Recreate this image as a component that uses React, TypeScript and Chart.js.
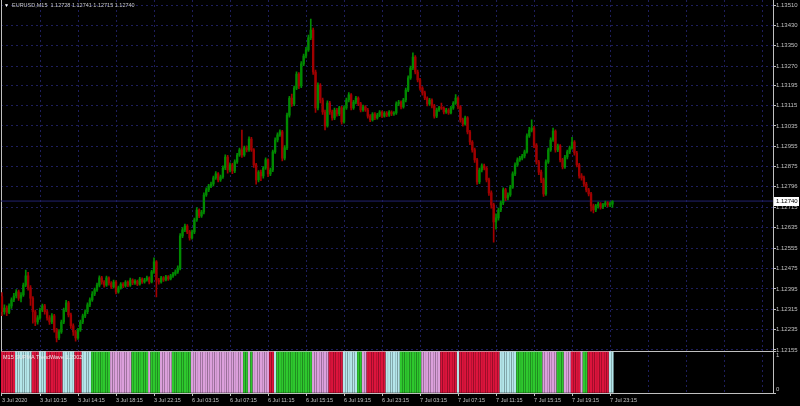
import React, { useEffect, useRef } from "react";
import { Chart, registerables } from "chart.js";

Chart.register(...registerables);

const symbolTitle = "EURUSD,M15";
const lastQuote = ["1.12728", "1.12741", "1.12715", "1.12740"];
const indicatorTitle = "M15 SUPMA TrendWave 1.2002";

const firstOpen = 1.12365;

const closes = [
  1.12305, 1.1232, 1.12303, 1.12328, 1.12352, 1.12367, 1.12383, 1.12359, 1.12371, 1.1241,
  1.12446, 1.12399, 1.12359, 1.12305, 1.12265, 1.12281, 1.12312, 1.12328, 1.12305, 1.12281,
  1.12265, 1.12289, 1.12234, 1.12202, 1.12226, 1.12265, 1.12312, 1.1234, 1.12293, 1.1225,
  1.12226, 1.12202, 1.12234, 1.12265, 1.12289, 1.12305, 1.12332, 1.12352, 1.12375, 1.12391,
  1.1241, 1.12438, 1.12422, 1.1241, 1.12438, 1.12418, 1.12403, 1.12422, 1.12383, 1.12399,
  1.12414, 1.12407, 1.12422, 1.1241, 1.1243, 1.12418, 1.12426, 1.12414, 1.12434, 1.12422,
  1.1243, 1.12438, 1.12422, 1.12462, 1.12501, 1.1243, 1.12422, 1.12438, 1.1243, 1.12442,
  1.12434, 1.12446, 1.12454, 1.12462, 1.12477, 1.12603, 1.12627, 1.12642, 1.12619, 1.12595,
  1.12619, 1.12666, 1.12705, 1.12682, 1.12697, 1.12764, 1.12784, 1.12799, 1.12807, 1.12831,
  1.12847, 1.12823, 1.12835, 1.1287, 1.12913, 1.12862, 1.12882, 1.12858, 1.12894, 1.12921,
  1.12941, 1.12921, 1.12949, 1.12941, 1.12984, 1.12941, 1.12882, 1.12823, 1.12854, 1.12839,
  1.1287, 1.12902, 1.12847, 1.12862, 1.12933, 1.1298, 1.13, 1.13012, 1.12909, 1.12949,
  1.13078, 1.13145, 1.13122, 1.13184, 1.13239, 1.13192, 1.13279, 1.1331, 1.13334, 1.13381,
  1.13412, 1.13247, 1.13106, 1.13196, 1.13137, 1.1309, 1.13035, 1.13125, 1.1309, 1.13067,
  1.13098, 1.13082, 1.13106, 1.13051, 1.13106, 1.13137, 1.13157, 1.13106, 1.13129, 1.13145,
  1.13122, 1.13098, 1.1311, 1.13098, 1.13074, 1.13059, 1.13082, 1.13067, 1.13078, 1.1309,
  1.13074, 1.13086, 1.13078, 1.1309, 1.13082, 1.13086, 1.13122, 1.13129, 1.1311, 1.13137,
  1.13176, 1.13224, 1.13263, 1.13306, 1.13247, 1.13216, 1.13184, 1.13165, 1.13145, 1.13122,
  1.13137, 1.13114, 1.13074, 1.13098, 1.13106, 1.13105, 1.1309, 1.13098, 1.13086, 1.13106,
  1.13125, 1.13145, 1.1311, 1.13059, 1.13043, 1.13067, 1.13012, 1.12972, 1.12941, 1.12902,
  1.12815, 1.12862, 1.12878, 1.1287, 1.12823, 1.12772, 1.12725, 1.12658, 1.12674, 1.12705,
  1.12733, 1.12784, 1.12752, 1.12764, 1.12795, 1.12847, 1.12882, 1.12902, 1.12909, 1.12917,
  1.12933, 1.12996, 1.13019, 1.13027, 1.1296, 1.12894, 1.12854, 1.12823, 1.12768, 1.12894,
  1.12941, 1.1298, 1.13015, 1.12941, 1.12957, 1.12902, 1.12874, 1.12913, 1.12933, 1.12949,
  1.12972, 1.12929, 1.12882, 1.12839, 1.12831, 1.12807, 1.12784, 1.12768, 1.12721, 1.12705,
  1.12721, 1.12729, 1.12717, 1.12725, 1.12733, 1.12725, 1.12728, 1.1274,
];

const highs = [
  1.1238, 1.12332, 1.12328, 1.12336, 1.1236, 1.12378, 1.12392, 1.1239, 1.1238, 1.12418,
  1.12469, 1.1246, 1.12408, 1.12365, 1.12312, 1.1229, 1.1232, 1.12335, 1.12334, 1.12312,
  1.1229, 1.12298, 1.12295, 1.1224, 1.12235, 1.12272, 1.1232, 1.1235, 1.12346, 1.123,
  1.12258, 1.12232, 1.1224, 1.12272, 1.12296, 1.12313, 1.1234, 1.1236, 1.12384, 1.12398,
  1.12418, 1.12446, 1.12444, 1.12428, 1.12445, 1.12442, 1.12424, 1.1243, 1.12428, 1.12406,
  1.1242, 1.1242, 1.12428, 1.12427, 1.12437, 1.12435, 1.12432, 1.1243, 1.1244, 1.12438,
  1.12436, 1.12445, 1.12442, 1.12468, 1.12517, 1.12506, 1.12436, 1.12444, 1.12443, 1.12448,
  1.12447, 1.12452, 1.1246, 1.1247, 1.12486, 1.12612, 1.12636, 1.1265, 1.12648, 1.12625,
  1.12626, 1.12673, 1.12714, 1.1271, 1.12704, 1.12772, 1.12792, 1.12806, 1.12815, 1.12838,
  1.12856, 1.12852, 1.12842, 1.12878, 1.12922, 1.1292, 1.1289, 1.12888, 1.12902, 1.12928,
  1.12948, 1.13019, 1.12956, 1.12957, 1.12992, 1.1299, 1.12946, 1.12888, 1.1286, 1.12862,
  1.12876, 1.1291, 1.12906, 1.1287, 1.1294, 1.12988, 1.13008, 1.1302, 1.13018, 1.12958,
  1.13086, 1.13152, 1.1316, 1.13192, 1.13248, 1.13245, 1.13288, 1.13318, 1.13344, 1.13392,
  1.13455, 1.1342, 1.13255, 1.13205, 1.13202, 1.13145, 1.13098, 1.13134, 1.13132, 1.13098,
  1.13105, 1.13104, 1.13112, 1.13112, 1.13114, 1.13145, 1.13166, 1.13162, 1.13136, 1.13152,
  1.1315, 1.13128, 1.13117, 1.13115, 1.13104, 1.1308, 1.13088, 1.13088, 1.13085, 1.13096,
  1.13095, 1.13092, 1.13092, 1.13096, 1.13095, 1.13092, 1.1313, 1.13136, 1.13134, 1.13144,
  1.13184, 1.13232, 1.1327, 1.13322, 1.13312, 1.13255, 1.13222, 1.1319, 1.13172, 1.1315,
  1.13144, 1.13142, 1.1312, 1.13105, 1.13112, 1.13125, 1.1311, 1.13104, 1.13103, 1.13112,
  1.13131, 1.13158, 1.1315, 1.13115, 1.13066, 1.13074, 1.13072, 1.13018, 1.12978, 1.12948,
  1.12908, 1.1287, 1.12886, 1.12885, 1.12876, 1.1283, 1.1278, 1.12732, 1.1269, 1.12712,
  1.1274, 1.12792, 1.1279, 1.12772, 1.12802, 1.12855, 1.1289, 1.1291, 1.12916, 1.12924,
  1.1294, 1.13004, 1.1303, 1.13059, 1.13034, 1.12966, 1.129, 1.12862, 1.1283, 1.12902,
  1.12948, 1.12988, 1.13027, 1.1302, 1.12964, 1.12962, 1.12908, 1.1292, 1.1294, 1.12956,
  1.1299, 1.12978, 1.12935, 1.12888, 1.12848, 1.12838, 1.12814, 1.1279, 1.12774, 1.12728,
  1.12727, 1.12736, 1.12734, 1.12731, 1.1274, 1.12738, 1.12736, 1.12741,
];

const lows = [
  1.1229, 1.12296, 1.1229, 1.12298, 1.12318, 1.12345, 1.1236, 1.1235, 1.12344, 1.12365,
  1.12404, 1.1239, 1.1233, 1.1226, 1.1225, 1.12256, 1.12275, 1.12305, 1.12296, 1.12272,
  1.12255, 1.12258, 1.12225, 1.12187, 1.12195, 1.1222, 1.12258, 1.12305, 1.12285, 1.1224,
  1.12212, 1.1219, 1.12196, 1.12228, 1.12258, 1.12282, 1.12298, 1.12325, 1.12346, 1.12368,
  1.12385, 1.12403, 1.12414, 1.12402, 1.12405, 1.1241, 1.12396, 1.12398, 1.12375, 1.12378,
  1.12394, 1.124, 1.12402, 1.12404, 1.12405, 1.12412, 1.12413, 1.12408, 1.1241, 1.12416,
  1.12417, 1.12425, 1.12415, 1.12418, 1.12456, 1.12363, 1.12414, 1.12417, 1.12424, 1.12426,
  1.12428, 1.1243, 1.1244, 1.12448, 1.12456, 1.1247, 1.12596, 1.1262, 1.12612, 1.12586,
  1.1259, 1.12612, 1.1266, 1.12675, 1.12676, 1.1269, 1.12758, 1.12777, 1.12793, 1.128,
  1.12825, 1.12815, 1.12817, 1.12829, 1.12863, 1.1285, 1.12855, 1.12848, 1.12852, 1.12888,
  1.12915, 1.12912, 1.12915, 1.12933, 1.12935, 1.12935, 1.12872, 1.12806, 1.12815, 1.1282,
  1.1283, 1.12864, 1.12836, 1.1284, 1.12856, 1.12927, 1.12972, 1.12994, 1.12898, 1.12902,
  1.12942, 1.1307, 1.13112, 1.13115, 1.13178, 1.13182, 1.13186, 1.13272, 1.13302, 1.13328,
  1.13374, 1.13238, 1.13088, 1.13098, 1.13126, 1.1308, 1.1302, 1.1303, 1.1308, 1.13058,
  1.1306, 1.13074, 1.13076, 1.13042, 1.13046, 1.131, 1.1313, 1.13098, 1.131, 1.13122,
  1.13115, 1.1309, 1.13092, 1.13092, 1.13066, 1.13052, 1.13054, 1.1306, 1.13062, 1.13072,
  1.13068, 1.1307, 1.13072, 1.13073, 1.13076, 1.13077, 1.1308, 1.13115, 1.13102, 1.13105,
  1.1313, 1.1317, 1.13218, 1.13256, 1.1324, 1.13208, 1.13176, 1.13156, 1.13138, 1.13114,
  1.13116, 1.13106, 1.13066, 1.13068, 1.13092, 1.131, 1.13082, 1.13084, 1.1308, 1.13082,
  1.131, 1.1312, 1.13102, 1.1305, 1.13034, 1.13038, 1.13004, 1.12962, 1.12932, 1.12892,
  1.12805, 1.12808, 1.12855, 1.12862, 1.12815, 1.12762, 1.12712, 1.12579, 1.1263, 1.12665,
  1.12698, 1.12726, 1.12742, 1.12745, 1.12758, 1.1279, 1.1284, 1.12876, 1.12896, 1.12902,
  1.1291, 1.12928, 1.1299, 1.13012, 1.1295, 1.12885, 1.12844, 1.12812, 1.12758, 1.12762,
  1.12888, 1.12935, 1.12974, 1.12932, 1.12934, 1.12894, 1.12866, 1.12868, 1.12906, 1.12926,
  1.12944, 1.1292, 1.12874, 1.1283, 1.12822, 1.12798, 1.12776, 1.1276, 1.127, 1.12693,
  1.12698, 1.12712, 1.12708, 1.1271, 1.12718, 1.12717, 1.12718, 1.12715,
];

const priceTicks = [
  1.1351, 1.1343, 1.1335, 1.1327, 1.13195, 1.13115, 1.13035, 1.12955, 1.12875,
  1.12796, 1.12715, 1.12635, 1.12555, 1.12475, 1.12395, 1.12315, 1.12235, 1.12155,
];

const timeLabels = [
  "3 Jul 2020", "3 Jul 10:15", "3 Jul 14:15", "3 Jul 18:15", "3 Jul 22:15",
  "6 Jul 03:15", "6 Jul 07:15", "6 Jul 11:15", "6 Jul 15:15", "6 Jul 19:15",
  "6 Jul 23:15", "7 Jul 03:15", "7 Jul 07:15", "7 Jul 11:15", "7 Jul 15:15",
  "7 Jul 19:15", "7 Jul 23:15",
];
const barsPerLabel = 16;

// trend state runs: R = down strong, C = down weak, G = up strong, P = up weak
const trendRuns: [string, number][] = [
  ["R", 6], ["C", 7], ["R", 3], ["C", 3], ["R", 7], ["C", 5], ["R", 3], ["C", 4],
  ["G", 8], ["P", 9], ["G", 7], ["P", 1], ["G", 4], ["P", 5], ["G", 8], ["P", 22],
  ["G", 2], ["P", 1], ["G", 1], ["P", 7], ["R", 2], ["C", 1], ["G", 15], ["P", 7],
  ["R", 6], ["C", 6], ["G", 2], ["P", 2], ["R", 8], ["C", 6], ["G", 9], ["P", 8],
  ["R", 7], ["C", 1], ["R", 17], ["C", 7], ["G", 11], ["P", 6], ["G", 3], ["P", 3],
  ["R", 4], ["P", 1], ["G", 2], ["R", 9], ["C", 2],
];
const trendLevel = 1;

const TREND_COLORS: Record<string, string> = {
  R: "#dc143c",
  C: "#b4e6ea",
  G: "#2ec82e",
  P: "#dca0dc",
};
const BULL = "#008a00";
const BEAR = "#a00000";
const GRID = "#1e1e5c";
const AXIS = "#c0c0c0";
const BIDLINE = "#22226e";
const FONT = "'Liberation Sans', Arial, sans-serif";

const noPad = (s: any) => {
  s.paddingLeft = 0;
  s.paddingRight = 0;
  s.paddingTop = 0;
  s.paddingBottom = 0;
};

export default function App() {
  const ref = useRef<HTMLCanvasElement>(null);

  useEffect(() => {
    const canvas = ref.current;
    if (!canvas) return;
    const n = closes.length;
    const opens = closes.map((c, i) => (i === 0 ? firstOpen : closes[i - 1]));
    const colors = closes.map((c, i) => (c >= opens[i] ? BULL : BEAR));
    const trend: string[] = [];
    trendRuns.forEach(([k, cnt]) => {
      for (let j = 0; j < cnt; j++) trend.push(TREND_COLORS[k]);
    });
    const last = closes[n - 1];
    const xMin = -0.42;
    const xMax = 324.6;
    const lastLabelBar = (timeLabels.length - 1) * barsPerLabel;

    const bidPlugin = {
      id: "bidBox",
      afterDraw(chart: any) {
        const ctx = chart.ctx;
        const ys = chart.scales.y;
        const py = Math.round(ys.getPixelForValue(last));
        const x0 = chart.chartArea.right + 1;
        ctx.save();
        ctx.fillStyle = "#ffffff";
        ctx.fillRect(x0, py - 4, 25, 9);
        ctx.fillStyle = "#000000";
        ctx.font = `6px ${FONT}`;
        ctx.textBaseline = "middle";
        ctx.textAlign = "left";
        ctx.fillText(last.toFixed(5), x0 + 2, py + 0.5);
        ctx.restore();
      },
    };

    const chart = new Chart(canvas, {
      type: "bar",
      data: {
        datasets: [
          {
            type: "line",
            label: "bid",
            data: [
              { x: xMin, y: last },
              { x: xMax, y: last },
            ],
            borderColor: BIDLINE,
            borderWidth: 1,
            pointRadius: 0,
            yAxisID: "y",
            order: 5,
          } as any,
          {
            type: "bar",
            label: "wicks",
            data: closes.map((c, i) => ({ x: i, y: [lows[i], highs[i]] })),
            backgroundColor: colors,
            barThickness: 1,
            grouped: false,
            yAxisID: "y",
            order: 3,
          },
          {
            type: "bar",
            label: "bodies",
            data: closes.map((c, i) => ({
              x: i,
              y: [Math.min(opens[i], c), Math.max(opens[i], c)],
            })),
            backgroundColor: colors,
            barThickness: 1.7,
            minBarLength: 1,
            grouped: false,
            yAxisID: "y",
            order: 2,
          },
          {
            type: "bar",
            label: "trend",
            data: closes.map((_, i) => ({ x: i, y: trendLevel })),
            backgroundColor: trend,
            barThickness: 1.6,
            grouped: false,
            yAxisID: "y2",
            order: 1,
          },
        ] as any,
      },
      options: {
        animation: false,
        responsive: false,
        devicePixelRatio: 1,
        events: [],
        layout: { padding: { left: 1, right: 0, top: 0, bottom: 0 } },
        plugins: { legend: { display: false }, tooltip: { enabled: false } },
        scales: {
          x: {
            type: "linear",
            position: "bottom",
            offset: false,
            min: xMin,
            max: xMax,
            afterBuildTicks: (s: any) => {
              const t = [];
              for (let v = 0; v <= xMax; v += barsPerLabel) t.push({ value: v });
              s.ticks = t;
            },
            afterFit: (s: any) => {
              s.height = 13;
              noPad(s);
            },
            ticks: {
              autoSkip: false,
              maxRotation: 0,
              align: "start",
              padding: 1,
              color: AXIS,
              font: { family: FONT, size: 5.5 },
              callback: (v: any) => {
                const k = Math.round(Number(v) / barsPerLabel);
                return Number(v) <= lastLabelBar ? timeLabels[k] : "";
              },
            },
            grid: {
              offset: false,
              color: GRID,
              lineWidth: 1,
              tickLength: 3,
              tickColor: (ctx: any) =>
                ctx.tick && ctx.tick.value <= lastLabelBar ? AXIS : "rgba(0,0,0,0)",
            },
            border: { color: AXIS, dash: [2, 3] },
          },
          y: {
            type: "linear",
            position: "right",
            stack: "panes",
            stackWeight: 351.5,
            min: 1.12149,
            max: 1.1353,
            afterBuildTicks: (s: any) => {
              s.ticks = priceTicks.map((v) => ({ value: v }));
            },
            afterFit: (s: any) => {
              s.width = 27;
              noPad(s);
            },
            ticks: {
              autoSkip: false,
              padding: 0,
              color: AXIS,
              font: { family: FONT, size: 6 },
              callback: (v: any) => Number(v).toFixed(5),
            },
            grid: { color: GRID, lineWidth: 1, tickLength: 3, tickColor: AXIS },
            border: { color: AXIS, dash: [2, 3] },
          },
          y2: {
            type: "linear",
            position: "right",
            stack: "panes",
            stackWeight: 41.5,
            min: 0,
            max: 1,
            afterBuildTicks: (s: any) => {
              s.ticks = [{ value: 0 }, { value: 1 }];
            },
            afterFit: (s: any) => {
              s.width = 27;
              noPad(s);
            },
            ticks: {
              autoSkip: false,
              padding: 0,
              color: AXIS,
              font: { family: FONT, size: 6 },
              callback: (v: any) => (Number(v) >= 1 ? ["", "1"] : ["0", ""]),
            },
            grid: { color: AXIS, lineWidth: 1, tickLength: 3, tickColor: AXIS },
            border: { color: AXIS },
          },
          yl: {
            type: "linear",
            position: "left",
            display: true,
            afterFit: (s: any) => {
              s.width = 0;
              noPad(s);
            },
            ticks: { display: false },
            grid: { display: false, drawOnChartArea: false, drawTicks: false },
            border: { color: AXIS, width: 1 },
          },
        } as any,
      },
      plugins: [bidPlugin],
    });
    return () => chart.destroy();
  }, []);

  return (
    <div
      style={{
        position: "fixed",
        left: 0,
        top: 0,
        width: 800,
        height: 406,
        background: "#000",
        overflow: "hidden",
      }}
    >
      <canvas ref={ref} width={800} height={406} style={{ display: "block" }} />
      <div
        style={{
          position: "absolute",
          left: 4,
          top: 1,
          color: "#c8c8c8",
          font: `5.5px ${FONT}`,
          lineHeight: "8px",
          whiteSpace: "pre",
        }}
      >
        <span style={{ color: "#ffffff", fontSize: 5 }}>{"\u25BC"}</span>
        {"  " + symbolTitle + "  " + lastQuote.join(" ")}
      </div>
      <div
        style={{
          position: "absolute",
          left: 3,
          top: 353,
          color: "#e8e8e8",
          font: `5.5px ${FONT}`,
          lineHeight: "8px",
          whiteSpace: "pre",
        }}
      >
        {indicatorTitle}
      </div>
    </div>
  );
}
